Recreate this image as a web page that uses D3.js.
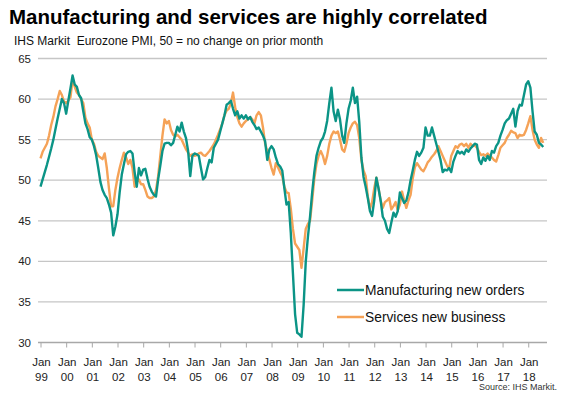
<!DOCTYPE html>
<html>
<head>
<meta charset="utf-8">
<script src="https://cdn.jsdelivr.net/npm/d3@7"></script>
<style>
  body { margin: 0; background: #fff; }
  svg { display: block; font-family: "Liberation Sans", Arial, sans-serif; }
</style>
</head>
<body>
<div id="chart"></div>
<script>
// Eurozone PMI, monthly from Jan 1999
const startYear = 1999;

const manufacturing = [
  49.2, 50.1, 51.0, 51.9, 52.9, 53.9, 55.0, 56.3, 57.6, 58.8, 60.0, 59.5,
  58.2, 59.8, 61.3, 62.9, 61.8, 61.5, 60.5, 60.1, 58.5, 57.0, 56.3, 55.3,
  55.0, 54.2, 53.1, 51.5, 49.8, 48.8, 48.2, 47.8, 47.0, 46.0, 43.2, 44.3,
  45.8, 48.5, 50.7, 52.0, 53.2, 53.5, 53.6, 53.3, 51.0, 49.2, 51.5, 50.6,
  51.3, 51.4, 50.2, 49.2, 48.6, 48.2, 48.0, 50.1, 51.8, 53.6, 54.5, 54.6,
  54.6, 54.3, 54.6, 55.6, 56.6, 56.0, 57.1, 56.0, 55.2, 53.6, 50.5, 53.0,
  53.3, 53.2, 53.0, 51.5, 50.1, 50.4, 51.5, 52.5, 52.2, 54.0, 54.5, 55.0,
  56.0, 57.0, 58.0, 59.3, 59.5, 59.8, 58.8, 58.0, 58.5, 57.6, 58.0, 57.6,
  58.0, 57.5, 57.8, 57.2, 56.8, 56.3, 56.5, 56.0, 55.5, 54.8, 52.5, 53.8,
  54.2, 53.8, 52.8, 52.0, 51.7, 51.2, 49.0, 47.0, 47.3, 43.5, 38.5, 33.5,
  31.2, 31.0, 30.7, 34.6, 40.0, 43.0, 45.5, 48.5, 51.0, 53.0, 54.0, 54.8,
  55.2, 56.0, 57.3, 59.5, 61.4, 58.5, 57.3, 58.7, 57.5, 55.5, 54.6, 57.0,
  58.8, 59.8, 61.4, 59.5, 60.3, 57.2, 52.8, 50.4, 49.2, 47.8, 46.2, 45.6,
  47.5, 50.3, 49.0, 47.5, 45.5, 45.0, 44.0, 43.5, 44.8, 46.0, 45.5, 46.2,
  48.5, 47.8, 47.2, 47.5, 48.5, 50.0, 51.2, 52.5, 53.5, 53.0, 53.4, 54.0,
  56.5, 55.5, 55.5, 56.5, 55.5, 54.5, 53.5, 52.5, 51.0, 51.3, 51.2, 51.5,
  51.0, 52.3, 53.0, 53.6, 53.3, 53.5, 53.2, 53.8, 53.5, 53.9, 54.2, 54.5,
  54.4, 52.5, 52.0, 52.8, 52.4, 53.0, 52.5, 53.6, 53.4, 54.2, 54.6, 55.5,
  56.2, 57.0, 57.4, 57.6, 58.2, 58.8, 56.6, 58.5, 59.3, 59.2, 60.5, 61.8,
  62.2, 61.4, 58.5, 56.0, 55.6, 54.6, 54.4, 54.1
];

const services = [
  52.7, 53.5, 54.0, 54.5, 55.5, 56.8, 57.8, 59.1, 60.0, 61.0, 60.5, 59.7,
  59.5, 59.8, 60.2, 62.4, 61.5, 60.8, 60.5, 60.0, 59.5, 57.7, 57.0, 56.5,
  55.0, 54.5, 53.5, 53.0, 52.8, 52.6, 53.3, 51.5, 49.0, 46.8, 46.8, 48.8,
  50.3, 51.5, 52.5, 53.4, 52.8, 52.0, 52.5, 51.5, 49.2, 49.8, 50.1, 49.5,
  49.5, 48.8, 48.0, 47.8, 47.8, 48.0, 48.8, 50.5, 53.0, 55.5, 57.5, 57.0,
  57.3, 56.2, 55.6, 55.4, 55.6, 55.3, 55.0, 54.4, 53.8, 53.4, 53.0, 53.2,
  53.0, 53.1, 53.3, 53.4, 53.1, 53.0, 53.3, 53.6, 54.0, 54.4, 55.0, 55.6,
  56.3, 57.0, 58.0, 58.6, 58.8, 59.5, 60.8, 59.0, 57.8, 57.0, 56.6, 57.0,
  57.3, 57.5, 57.8, 57.5, 57.0, 58.0, 58.4, 58.0, 56.5, 54.5, 53.6, 52.5,
  51.5, 50.7, 52.1, 51.6, 51.0, 50.5, 49.2, 48.5, 48.4, 46.5, 44.0, 42.2,
  41.8, 41.4, 39.2, 41.6, 44.0, 44.6, 45.0, 47.5, 50.2, 52.0, 53.0, 53.6,
  53.0, 52.0, 53.0, 54.5, 55.5, 56.0, 55.8, 56.0, 55.0, 53.8, 53.5, 54.5,
  55.8, 56.5, 57.0, 57.2, 56.8, 55.2, 52.5, 51.2, 50.5, 48.0, 46.5, 47.3,
  49.0, 50.3, 49.0, 47.5, 46.6, 47.3, 47.5, 47.8, 46.4, 46.8, 47.3, 46.3,
  47.0, 48.6, 47.5, 46.6, 47.5, 48.2, 50.2, 51.6, 52.1, 51.7, 51.3, 51.1,
  51.6, 52.2, 52.5, 52.9, 53.2, 53.6, 54.2, 53.6, 53.0, 52.4, 51.8, 51.4,
  53.0, 53.6, 54.2, 54.0, 54.4, 54.5, 54.2, 54.5, 54.0, 54.5, 54.2, 54.3,
  54.0, 53.5, 53.1, 53.2, 53.0, 53.3, 53.0, 52.8, 52.5, 52.3, 53.1, 54.0,
  54.3, 54.6, 55.2, 55.6, 56.1, 55.9, 55.8, 55.2, 55.6, 55.5, 55.6, 56.2,
  57.0, 57.9, 56.2, 55.0, 54.4, 54.0, 55.2, 54.6
];

const yearLabels = ["99", "00", "01", "02", "03", "04", "05", "06", "07", "08",
  "09", "10", "11", "12", "13", "14", "15", "16", "17", "18"];
const yTicks = [30, 35, 40, 45, 50, 55, 60, 65];

const seriesNames = ["Manufacturing new orders", "Services new business"];
const colors = ["#0b9486", "#f5a257"];

// Setup
const width = 564;
const height = 399;

const svg = d3.select("#chart")
  .append("svg")
  .attr("width", width)
  .attr("height", height);

svg.append("rect").attr("width", width).attr("height", height).attr("fill", "#fff");

// month index scale; axis runs a few months past the last point
const x = d3.scaleLinear()
  .domain([0, 237])
  .range([40.5, 547.5]);

const y = d3.scaleLinear()
  .domain([30, 65])
  .range([342.5, 58.5]);

// gridlines
svg.append("g")
  .selectAll("line")
  .data(yTicks.filter(d => d > 30))
  .join("line")
  .attr("x1", 38)
  .attr("x2", 547)
  .attr("y1", d => y(d))
  .attr("y2", d => y(d))
  .attr("stroke", "#c6c6c6")
  .attr("stroke-width", 1.3);

// y labels
svg.append("g")
  .selectAll("text")
  .data(yTicks)
  .join("text")
  .attr("x", 31)
  .attr("y", d => y(d))
  .attr("dy", "0.35em")
  .attr("text-anchor", "end")
  .attr("font-size", 11.5)
  .attr("fill", "#222")
  .text(d => d);

// x axis
const xAxis = d3.axisBottom(x)
  .tickValues(yearLabels.map((d, i) => i * 12))
  .tickSize(5)
  .tickFormat("");

const gx = svg.append("g")
  .attr("transform", `translate(0,${y(30)})`)
  .call(xAxis);
gx.select(".domain").attr("stroke", "#a8a8a8").attr("stroke-width", 1.3)
  .attr("d", `M38,0H547`);
gx.selectAll(".tick line").attr("stroke", "#a8a8a8");

const xl = svg.append("g")
  .selectAll("text")
  .data(yearLabels)
  .join("text")
  .attr("text-anchor", "middle")
  .attr("font-size", 11.5)
  .attr("fill", "#222");
xl.append("tspan")
  .attr("x", (d, i) => x(i * 12) + 1)
  .attr("y", 366)
  .text("Jan");
xl.append("tspan")
  .attr("x", (d, i) => x(i * 12) + 1)
  .attr("y", 381)
  .text(d => d);

// lines
const line = d3.line()
  .x((d, i) => x(i))
  .y(d => y(d));

svg.append("path")
  .datum(services)
  .attr("fill", "none")
  .attr("stroke", colors[1])
  .attr("stroke-width", 2.4)
  .attr("stroke-linejoin", "round")
  .attr("d", line);

svg.append("path")
  .datum(manufacturing)
  .attr("fill", "none")
  .attr("stroke", colors[0])
  .attr("stroke-width", 2.4)
  .attr("stroke-linejoin", "round")
  .attr("d", line);

// legend
const legend = svg.append("g")
  .selectAll("g")
  .data(seriesNames)
  .join("g")
  .attr("transform", (d, i) => `translate(337,${290 + i * 27})`);
legend.append("line")
  .attr("x1", 0).attr("x2", 27)
  .attr("stroke", (d, i) => colors[i])
  .attr("stroke-width", 2.5);
legend.append("text")
  .attr("x", 28)
  .attr("dy", "0.35em")
  .attr("font-size", 13.8)
  .attr("fill", "#111")
  .text(d => d);

// titles
svg.append("text")
  .attr("x", 9)
  .attr("y", 24)
  .attr("font-size", 20.5)
  .attr("font-weight", "bold")
  .attr("fill", "#000")
  .text("Manufacturing and services are highly correlated");

svg.append("text")
  .attr("x", 14)
  .attr("y", 45)
  .attr("font-size", 12)
  .attr("fill", "#111")
  .attr("xml:space", "preserve")
  .style("white-space", "pre")
  .text("IHS Markit  Eurozone PMI, 50 = no change on prior month");

svg.append("text")
  .attr("x", 557)
  .attr("y", 390)
  .attr("text-anchor", "end")
  .attr("font-size", 9)
  .attr("fill", "#333")
  .text("Source: IHS Markit.");
</script>
</body>
</html>
